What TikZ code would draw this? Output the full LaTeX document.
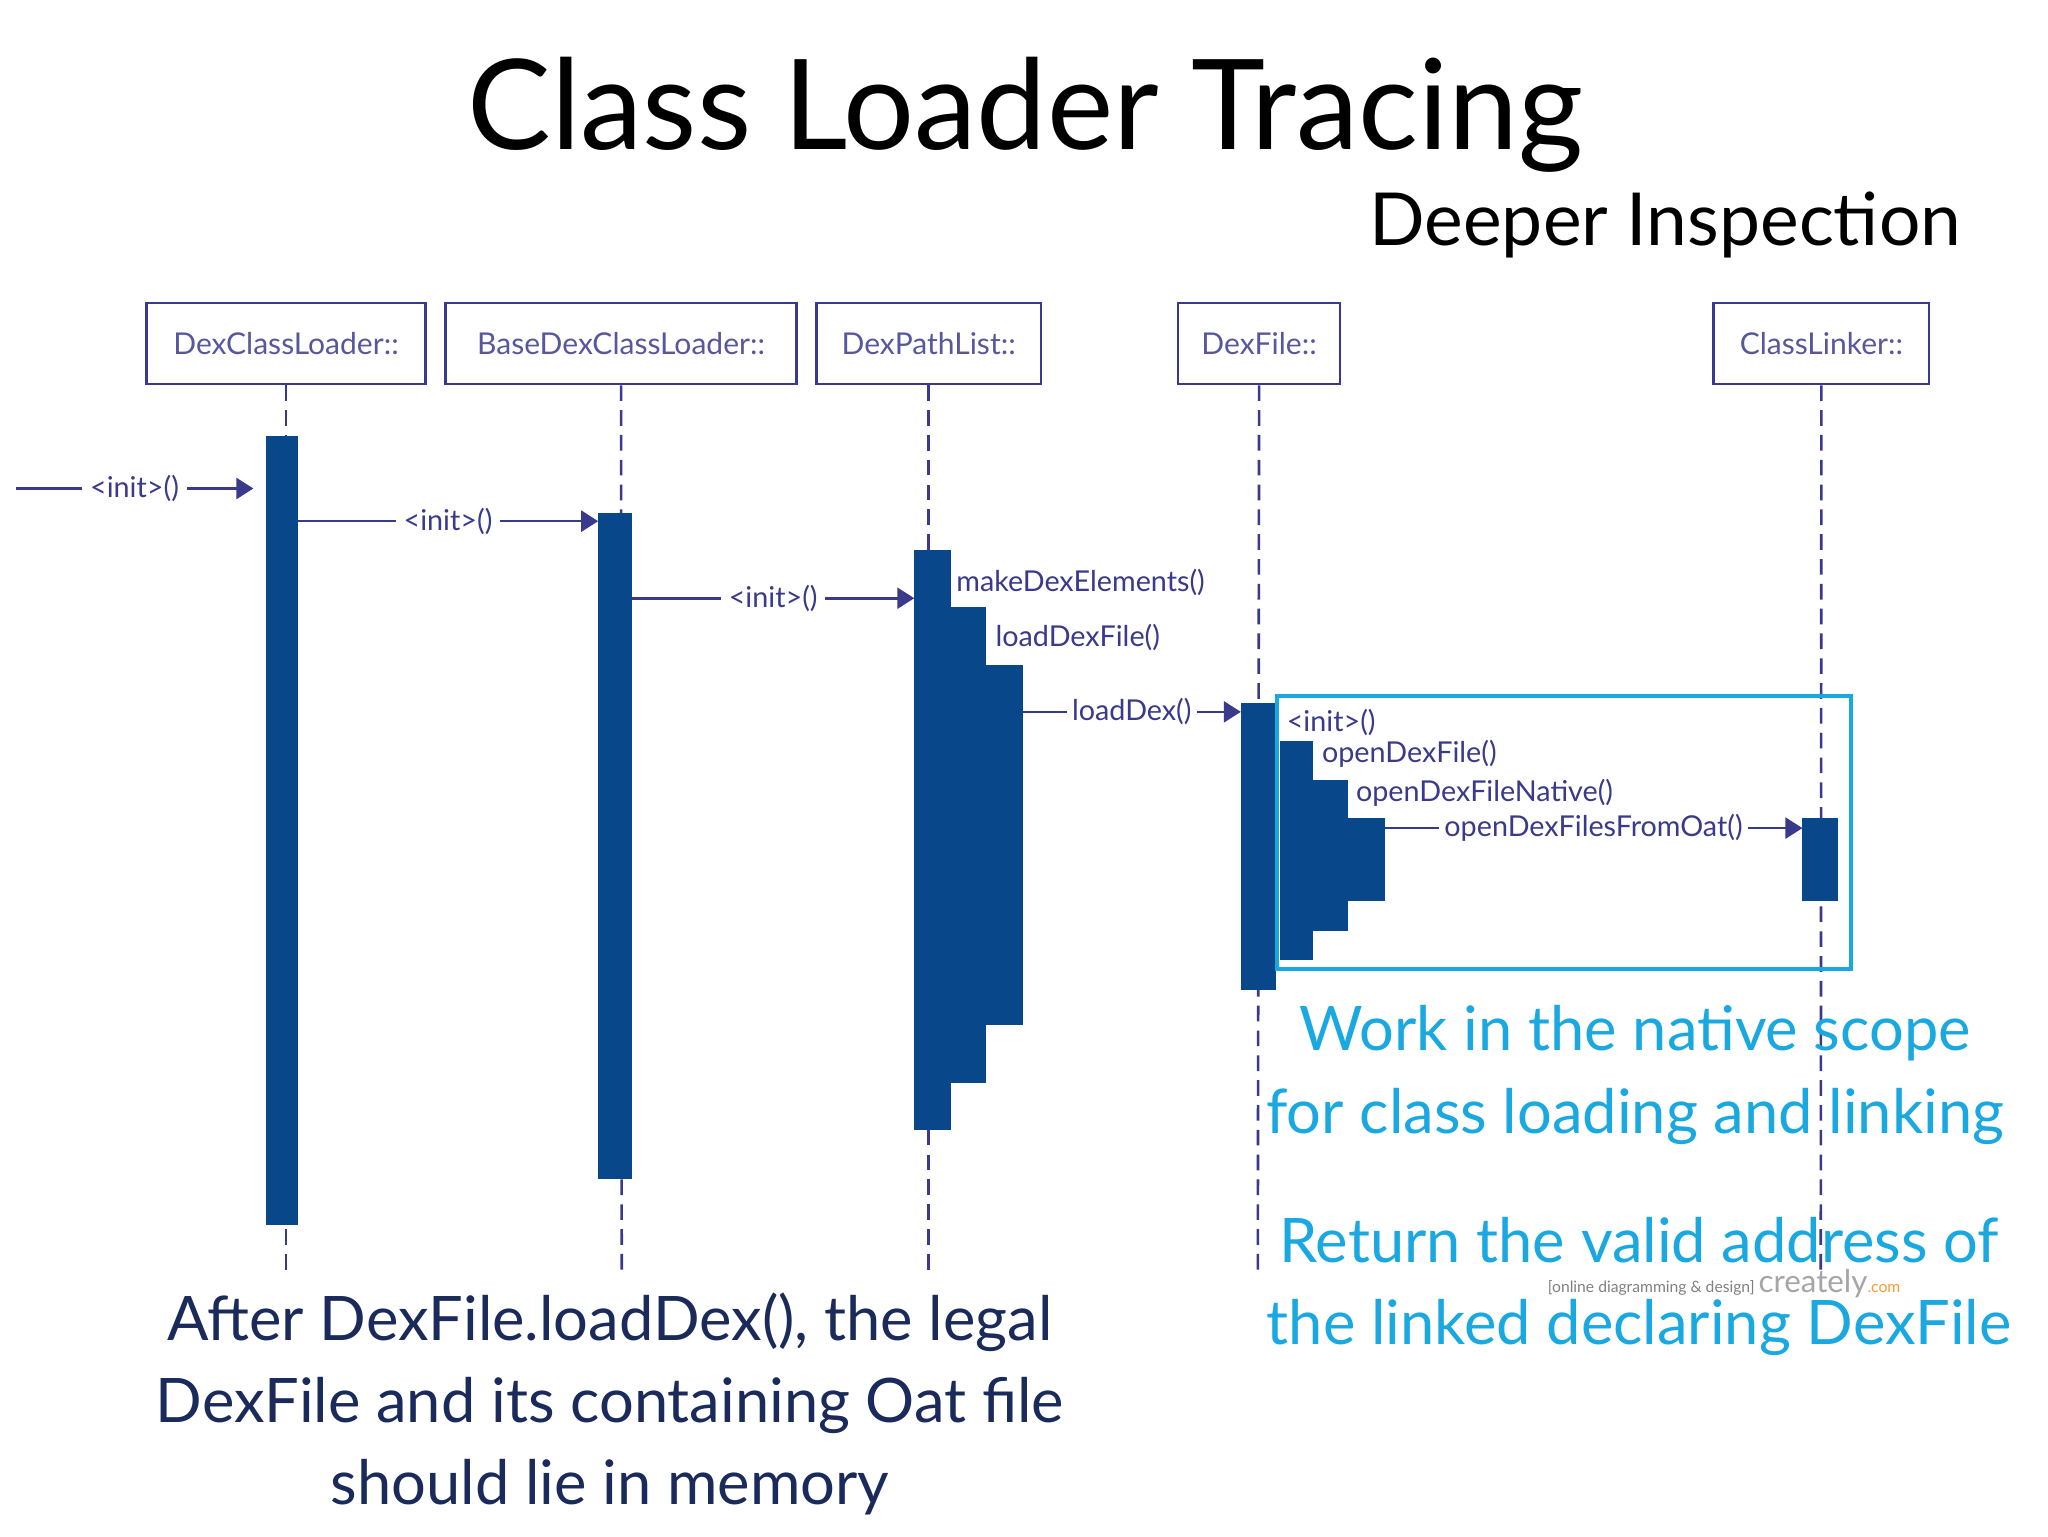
\documentclass[tikz,border=0pt]{standalone}
\usepackage{fontspec}
\setmainfont{Lato}
\usetikzlibrary{fit,arrows.meta}
\definecolor{bord}{HTML}{3A3A8C}
\definecolor{barc}{HTML}{08488A}
\definecolor{cyanc}{HTML}{1AA8E0}
\definecolor{navy}{HTML}{1A2A5A}
\begin{document}
\begin{tikzpicture}[x=1pt,y=-1pt,
 box/.style={draw=bord,line width=2pt,inner sep=0pt,text=bord!85,font=\fontsize{23}{28}\selectfont},
 bar/.style={fill=barc,draw=none,inner sep=0pt},
 life/.style={draw=bord,line width=2pt,dash pattern=on 12pt off 7pt},
 msg/.style={draw=bord,line width=2pt,-{Triangle[length=13pt,width=16pt]}},
 lbl/.style={fill=white,text=bord,inner sep=6pt,font=\fontsize{22}{28}\selectfont},
 albl/.style={text=bord,inner sep=0pt,anchor=west,font=\fontsize{22}{28}\selectfont},
 big/.style={align=center,font=\fontsize{47}{63}\selectfont}]
\useasboundingbox[fill=white] (0,0) rectangle (1568,1176);
\node[font=\fontsize{96}{110}\selectfont] (title) at (785,88) {Class Loader Tracing};
\node[font=\fontsize{56}{66}\selectfont] (sub) at (1275,172) {Deeper Inspection};
% boxes
\node[box,minimum width=214pt,minimum height=62pt] (A) at (219,263) {DexClassLoader::};
\node[box,minimum width=269pt,minimum height=62pt] (B) at (475.5,263) {BaseDexClassLoader::};
\node[box,minimum width=172pt,minimum height=62pt] (C) at (711,263) {DexPathList::};
\node[box,minimum width=124pt,minimum height=62pt] (D) at (964,263) {DexFile::};
\node[box,minimum width=165pt,minimum height=62pt] (E) at (1394.5,263) {ClassLinker::};
\coordinate (Ae) at (219,975); \coordinate (Be) at (476,975);
\coordinate (Ce) at (711,975); \coordinate (De) at (963,975); \coordinate (Ee) at (1394,975);
\draw[life] (A.south) -- (Ae); \draw[life] (B.south) -- (Be);
\draw[life] (C.south) -- (Ce); \draw[life] (D.south) -- (De); \draw[life] (E.south) -- (Ee);
% bars
\node[bar,fit={(204,334)(228,938)}] (a1) {};
\node[bar,fit={(458,393)(484,903)}] (b1) {};
\node[bar,fit={(700,421)(728,865)}] (c1) {};
\node[bar,fit={(728,465)(755,829)}] (c2) {};
\node[bar,fit={(755,509)(783,785)}] (c3) {};
\node[bar,fit={(950,538)(977,758)}] (d1) {};
\node[bar,fit={(980,567)(1005,735)}] (d2) {};
\node[bar,fit={(1005,597)(1032,713)}] (d3) {};
\node[bar,fit={(1032,626)(1060,690)}] (d4) {};
\node[bar,fit={(1380,626)(1407,690)}] (e1) {};
% messages
\coordinate (m0s) at (12,374); \coordinate (m0e) at (194,374);
\draw[msg] (m0s) -- node[lbl]{<init>()} (m0e);
\coordinate (m1s) at (228,399); \coordinate (m1e) at (458,399);
\draw[msg] (m1s) -- node[lbl]{<init>()} (m1e);
\coordinate (m2s) at (484,458); \coordinate (m2e) at (700,458);
\draw[msg] (m2s) -- node[lbl]{<init>()} (m2e);
\coordinate (m3s) at (783,545); \coordinate (m3e) at (950,545);
\draw[msg] (m3s) -- node[lbl,inner sep=4pt]{loadDex()} (m3e);
\coordinate (m4s) at (1060,634); \coordinate (m4e) at (1380,634);
\draw[msg] (m4s) -- node[lbl,inner sep=4pt]{openDexFilesFromOat()} (m4e);
\node[albl] (l1) at (732,446) {makeDexElements()};
\node[albl] (l2) at (762,488) {loadDexFile()};
\node[albl] (l3) at (985,553) {<init>()};
\node[albl] (l4) at (1012,577) {openDexFile()};
\node[albl] (l5) at (1038,607) {openDexFileNative()};
% cyan box
\draw[cyanc,line width=3pt] (978,533) rectangle (1417,742);
\node[big,text=cyanc] (t1) at (1252,823) {Work in the native scope\\for class loading and linking};
\node[big,text=cyanc] (t2) at (1255,985) {Return the valid address of\\the linked declaring DexFile};
\node[font=\fontsize{12}{14}\selectfont,text=gray] (wm) at (1320,983) {[online diagramming \& design] \textcolor{gray!70}{\fontsize{24}{26}\selectfont creately}\textcolor{orange!80}{\fontsize{12}{14}\selectfont .com}};
\node[big,text=navy] (t3) at (467,1075) {After DexFile.loadDex(), the legal\\DexFile and its containing Oat file\\should lie in memory};
\end{tikzpicture}
\end{document}
